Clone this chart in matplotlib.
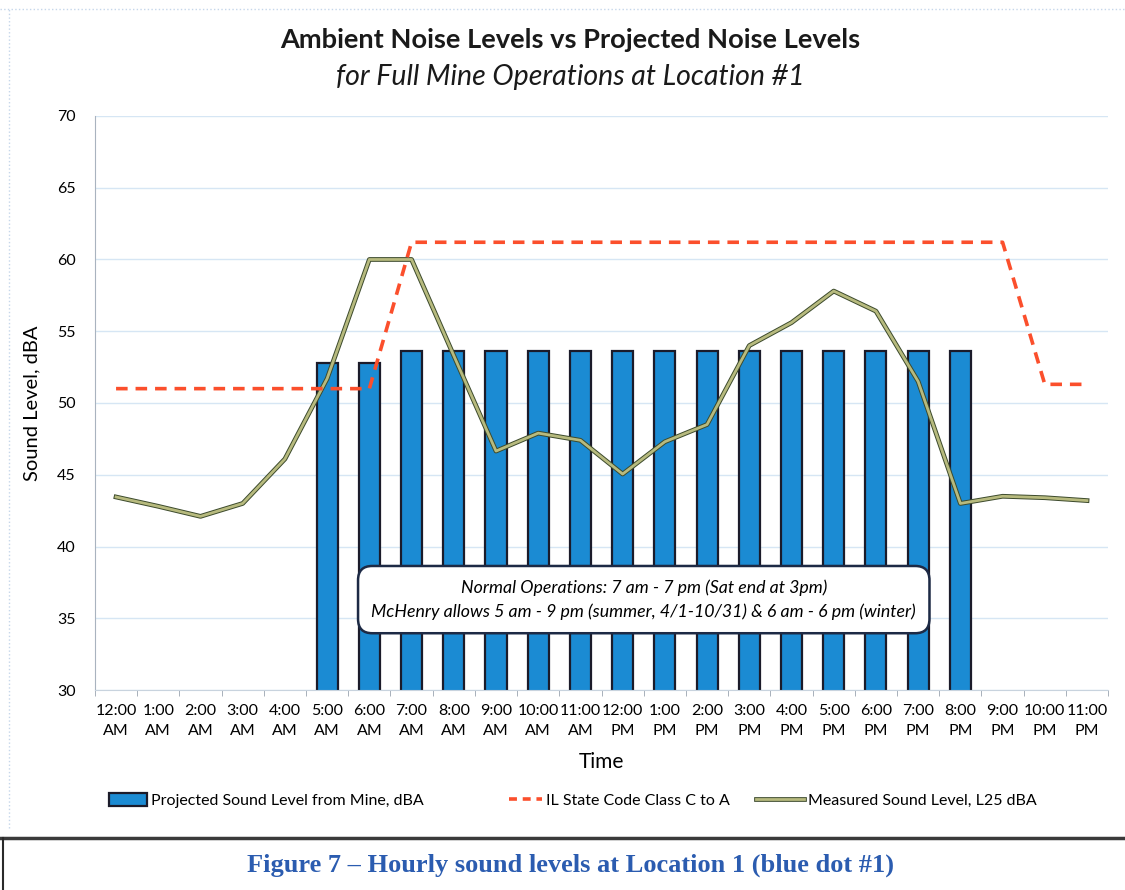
import matplotlib.pyplot as plt
import matplotlib.patheffects as pe
from matplotlib.lines import Line2D
from matplotlib.patches import Patch
import numpy as np

hours = ['12:00\nAM', '1:00\nAM', '2:00\nAM', '3:00\nAM', '4:00\nAM', '5:00\nAM',
         '6:00\nAM', '7:00\nAM', '8:00\nAM', '9:00\nAM', '10:00\nAM', '11:00\nAM',
         '12:00\nPM', '1:00\nPM', '2:00\nPM', '3:00\nPM', '4:00\nPM', '5:00\nPM',
         '6:00\nPM', '7:00\nPM', '8:00\nPM', '9:00\nPM', '10:00\nPM', '11:00\nPM']

# projected mine level, only during operating hours (5 am - 8 pm)
projected = [np.nan] * 5 + [52.8, 52.8] + [53.6] * 14 + [np.nan] * 3
il_code = [51.0] * 7 + [61.2] * 15 + [51.3] * 2
measured = [43.45, 42.8, 42.1, 43.0, 46.1, 51.7, 60.0, 60.0, 53.3, 46.65, 47.9, 47.4,
            45.05, 47.3, 48.5, 54.0, 55.6, 57.8, 56.4, 51.5, 43.0, 43.5, 43.4, 43.2]

x = np.arange(len(hours))

fig = plt.figure(figsize=(11.25, 8.9), dpi=100)
ax = fig.add_axes([0.0844, 0.2247, 0.9006, 0.645])

bar_face = '#1b8bd3'
bar_edge = '#1b1b2a'
red = '#fb4f2c'

ax.bar(x, projected, width=0.5, color=bar_face, edgecolor=bar_edge, linewidth=1.6, zorder=2)
ax.plot(x, il_code, color=red, lw=2.6, dashes=(3.2, 2.2), zorder=4)
green_fx = [pe.Stroke(linewidth=3.4, foreground='#3c4a2c'), pe.Normal()]
ax.plot(x, measured, color='#b7ba7e', lw=2.0, zorder=3, path_effects=green_fx)

ax.set_xlim(-0.5, 23.5)
ax.set_ylim(30, 70)
ax.set_yticks(range(30, 71, 5))
ax.set_xticks(x)
ax.set_xticklabels(hours, fontsize=11.5, family='Lato', linespacing=1.55)
ax.set_xticks(np.arange(-0.5, 24, 1), minor=True)
ax.tick_params(axis='x', which='major', length=0, pad=10)
ax.tick_params(axis='x', which='minor', length=4, color='#9aa4b0')
ax.tick_params(axis='y', length=0, labelsize=11.5, pad=14)
for lab in ax.get_yticklabels():
    lab.set_family('Lato')

ax.grid(axis='y', color='#d6e6f4', lw=1.0, zorder=0)
for side in ['top', 'right']:
    ax.spines[side].set_visible(False)
ax.spines['left'].set_color('#a9b3bf')
ax.spines['bottom'].set_color('#c8d3de')

ax.set_ylabel('Sound Level, dBA', fontsize=14.5, family='Lato', labelpad=12)
ax.set_xlabel('Time', fontsize=15, family='Lato', labelpad=10)

ax.text(12.5, 36.3,
        'Normal Operations: 7 am - 7 pm (Sat end at 3pm)\n'
        'McHenry allows 5 am - 9 pm (summer, 4/1-10/31) & 6 am - 6 pm (winter)',
        ha='center', va='center', fontsize=12.8, style='italic', family='Lato',
        linespacing=1.55, zorder=6,
        bbox=dict(boxstyle='round,pad=0.75,rounding_size=0.8', fc='white',
                  ec='#1d2a45', lw=1.8))

fig.text(0.507, 0.955, 'Ambient Noise Levels vs Projected Noise Levels',
         ha='center', va='center', fontsize=19.6, weight='bold', family='Lato', color='#1a1a1a')
fig.text(0.507, 0.914, 'for Full Mine Operations at Location #1',
         ha='center', va='center', fontsize=20.5, style='italic', family='Lato', color='#1a1a1a')

# one legend per entry so each sits where it belongs along the row
entries = [
    (Patch(facecolor=bar_face, edgecolor=bar_edge, linewidth=1.6),
     'Projected Sound Level from Mine, dBA', 0.097, 2.4),
    (Line2D([], [], color=red, lw=2.6, dashes=(2.2, 1.6)),
     'IL State Code Class C to A', 0.452, 2.1),
    (Line2D([], [], color='#b7ba7e', lw=2.0, path_effects=green_fx),
     'Measured Sound Level, L25 dBA', 0.672, 3.0),
]
for handle, label, x0, hlen in entries:
    leg = fig.legend([handle], [label], loc='center left', bbox_to_anchor=(x0, 0.101),
                     frameon=False, prop={'family': 'Lato', 'size': 11.5},
                     handlelength=hlen, handletextpad=0.25, handleheight=0.9,
                     borderpad=0, borderaxespad=0)

# caption band at the foot of the page
fig.add_artist(Line2D([0.0, 1.0], [0.058, 0.058], color='#3a3a3a', lw=2.5))
fig.add_artist(Line2D([0.003, 0.003], [0.0, 0.058], color='#2a2a2a', lw=1.5))
fig.add_artist(Line2D([0.008, 0.008], [0.07, 0.99], color='#c5d6ea', lw=1.0, ls=':'))
fig.add_artist(Line2D([0.0, 1.0], [0.99, 0.99], color='#c5d6ea', lw=1.0, ls=':'))
fig.text(0.507, 0.028, 'Figure 7 \u2013 Hourly sound levels at Location 1 (blue dot #1)',
         ha='center', va='center', fontsize=19, weight='bold', family='Liberation Serif',
         color='#2b5cb0')

fig.savefig('out.png', dpi=100)
